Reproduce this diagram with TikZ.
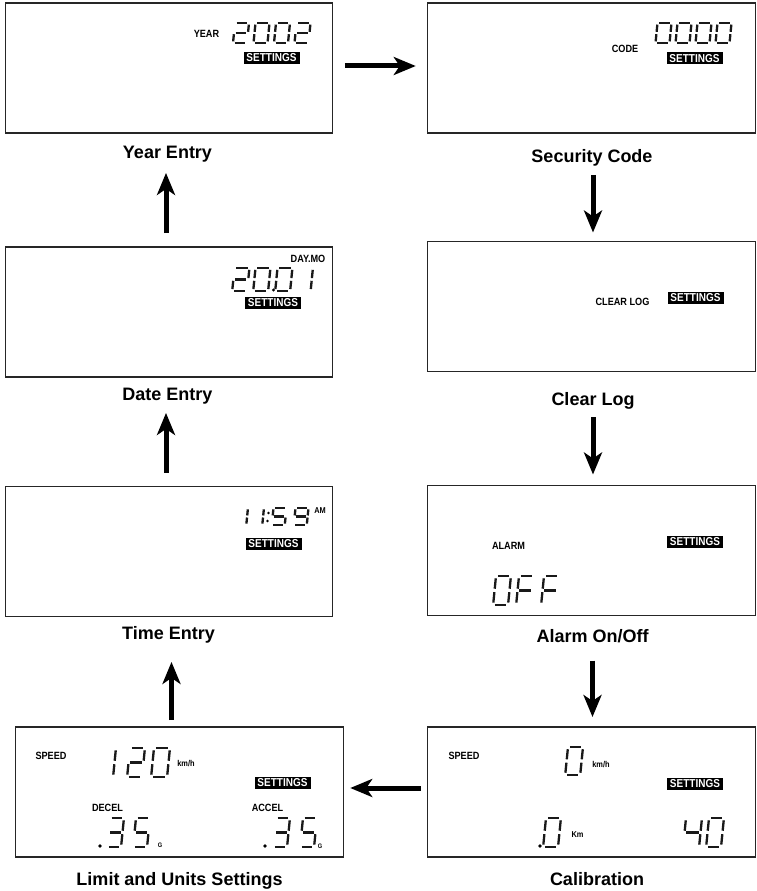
\documentclass[tikz,border=0pt]{standalone}
\usepackage{fontspec}
\setmainfont{Liberation Sans}
\newfontfamily\lcdfont[FakeStretch=0.87]{Liberation Sans}
\usetikzlibrary{arrows.meta}

\tikzset{
  screen/.style={draw=black!85, line width=1.4pt, minimum width=327.5pt, minimum height=130pt, inner sep=0pt, outer sep=0pt},
  screenname/.style={font=\bfseries\fontsize{18}{21}\selectfont, inner sep=0pt, anchor=base},
  lcdtag/.style={font=\lcdfont\bfseries\fontsize{10.5}{12}\selectfont, inner sep=0pt},
  lcdunit/.style={font=\lcdfont\bfseries\fontsize{8.5}{10}\selectfont, inner sep=0pt},
  setbox/.style={fill=black, text=white, font=\lcdfont\bfseries\fontsize{11.5}{12}\selectfont, minimum width=56pt, minimum height=12pt, inner sep=0pt},
  seg/.style={line width=2.3pt, black!90},
  flow/.style={line width=5pt, -{Stealth[length=22pt,width=18pt,inset=6pt]}}
}

% top-left x, top y, width, height, segments
\newcommand{\lcddigit}[5]{%
  \begin{scope}[shift={(#1,#2)}, xslant=0.1, xscale=#3, yscale=#4]
    \coordinate (a1) at (0.12,0);   \coordinate (a2) at (0.88,0);
    \coordinate (b1) at (1,0.08);   \coordinate (b2) at (1,0.44);
    \coordinate (c1) at (1,0.56);   \coordinate (c2) at (1,0.92);
    \coordinate (d1) at (0.12,1);   \coordinate (d2) at (0.88,1);
    \coordinate (e1) at (0,0.56);   \coordinate (e2) at (0,0.92);
    \coordinate (f1) at (0,0.08);   \coordinate (f2) at (0,0.44);
    \coordinate (g1) at (0.12,0.5); \coordinate (g2) at (0.88,0.5);
    \foreach \s in {#5} \draw[seg] (\s1) -- (\s2);
  \end{scope}}

\begin{document}
\begin{tikzpicture}[x=1pt,y=-1pt]
	\useasboundingbox (0,0) rectangle (756,891);
	
	%SCREENS
	\node[screen] (year) at (169,68) {};
	\node[screen] (code) at (591.5,68) {};
	\node[screen] (date) at (169,312) {};
	\node[screen] (clear) at (591.5,306.5) {};
	\node[screen] (time) at (169,551.5) {};
	\node[screen] (alarm) at (591.5,550.5) {};
	\node[screen] (limit) at (179.5,792) {};
	\node[screen] (calib) at (591.5,792) {};
	
	\node[screenname] (yearlbl) at (167.5,158) {Year Entry};
	\node[screenname] (codelbl) at (592,162) {Security Code};
	\node[screenname] (datelbl) at (167.5,400) {Date Entry};
	\node[screenname] (clearlbl) at (593,405) {Clear Log};
	\node[screenname] (timelbl) at (168.5,639) {Time Entry};
	\node[screenname] (alarmlbl) at (592.5,642) {Alarm On/Off};
	\node[screenname] (limitlbl) at (179.5,885) {Limit and Units Settings};
	\node[screenname] (caliblbl) at (597,885) {Calibration};
	
	%YEAR
	\node[lcdtag] (yeartag) at (206.5,34) {YEAR};
	\lcddigit{235}{23}{14}{20}{a,b,g,e,d}
	\lcddigit{255.5}{23}{14}{20}{a,b,c,d,e,f}
	\lcddigit{276}{23}{14}{20}{a,b,c,d,e,f}
	\lcddigit{296.5}{23}{14}{20}{a,b,g,e,d}
	\node[setbox] (yearset) at (271.5,58) {SETTINGS};
	
	%CODE
	\node[lcdtag] (codetag) at (625,49) {CODE};
	\foreach \x in {0,...,3}
	\lcddigit{657.5+\x*20}{23}{14}{20}{a,b,c,d,e,f}
	\node[setbox] (codeset) at (694.5,58.5) {SETTINGS};
	
	%DATE
	\node[lcdtag] (datetag) at (308,258.5) {DAY.MO};
	\lcddigit{234.5}{268}{15}{23}{a,b,g,e,d}
	\lcddigit{255.5}{268}{15}{23}{a,b,c,d,e,f}
	\fill (273.5,290) circle[radius=1.6pt];
	\lcddigit{277.5}{268}{15}{23}{a,b,c,d,e,f}
	\lcddigit{298}{268}{15}{23}{b,c}
	\node[setbox] (dateset) at (273,303) {SETTINGS};
	
	%TIME
	\lcddigit{235}{508}{13}{17}{b,c}
	\lcddigit{251}{508}{13}{17}{b,c}
	\fill (268.5,513) circle[radius=1.3pt] (267.5,521) circle[radius=1.3pt];
	\lcddigit{273.5}{508}{13}{17}{a,f,g,c,d}
	\lcddigit{295.5}{508}{13}{17}{a,b,c,d,f,g}
	\node[lcdunit] (timeam) at (320,511) {AM};
	\node[setbox] (timeset) at (273.5,543.5) {SETTINGS};
	
	%CLEAR LOG
	\node[lcdtag] (cleartag) at (622.5,302) {CLEAR LOG};
	\node[setbox] (clearset) at (695.5,297.5) {SETTINGS};
	
	%ALARM
	\node[lcdtag] (alarmtag) at (508.5,546) {ALARM};
	\lcddigit{496}{576}{15}{29}{a,b,c,d,e,f}
	\lcddigit{519}{576}{15}{29}{a,f,g,e}
	\lcddigit{544}{576}{15}{29}{a,f,g,e}
	\node[setbox] (alarmset) at (695,541.5) {SETTINGS};
	
	%CALIBRATION
	\node[lcdtag] (calibspeed) at (464,755.5) {SPEED};
	\lcddigit{568}{747}{15}{28}{a,b,c,d,e,f}
	\node[lcdunit] (calibkmh) at (601,764.5) {km/h};
	\node[setbox] (calibset) at (695,783.5) {SETTINGS};
	\fill (540,846) circle[radius=1.8pt];
	\lcddigit{546}{818}{15}{29}{a,b,c,d,e,f}
	\node[lcdunit] (calibkm) at (577.5,835) {Km};
	\lcddigit{686}{818}{16}{29}{f,g,b,c}
	\lcddigit{709}{818}{15}{29}{a,b,c,d,e,f}
	
	%LIMIT
	\node[lcdtag] (limitspeed) at (51,755.5) {SPEED};
	\lcddigit{100}{748}{16}{29}{b,c}
	\lcddigit{130}{748}{15}{29}{a,b,g,e,d}
	\lcddigit{154}{748}{16}{29}{a,b,c,d,e,f}
	\node[lcdunit] (limitkmh) at (186,763) {km/h};
	\node[setbox] (limitset) at (282.5,782.5) {SETTINGS};
	\node[lcdtag] (decel) at (107.5,808) {DECEL};
	\fill (100,846) circle[radius=1.8pt];
	\lcddigit{110}{818}{14}{29}{a,b,g,c,d}
	\lcddigit{136}{818}{14}{29}{a,f,g,c,d}
	\node[lcdunit, font=\lcdfont\bfseries\fontsize{6.5}{7}\selectfont] (decelg) at (160,845) {G};
	\node[lcdtag] (accel) at (267.5,808) {ACCEL};
	\fill (265,846) circle[radius=1.8pt];
	\lcddigit{276}{818}{14}{29}{a,b,g,c,d}
	\lcddigit{303}{818}{14}{29}{a,f,g,c,d}
	\node[lcdunit, font=\lcdfont\bfseries\fontsize{6.5}{7}\selectfont] (accelg) at (320,846) {G};
	
	%ARROWS
	\draw[flow, shorten <=12pt, shorten >=12pt] ([yshift=2pt]year.east) -- ([yshift=2pt]code.west);
	\draw[flow, shorten <=9pt, shorten >=9pt] ([xshift=1pt]codelbl.south) -- ([xshift=1pt]codelbl.south |- clear.north);
	\draw[flow, shorten <=8pt, shorten >=11pt] (clearlbl.south) -- (clearlbl.south |- alarm.north);
	\draw[flow, shorten <=18pt, shorten >=10pt] (alarmlbl.south) -- (alarmlbl.south |- calib.north);
	\draw[flow, shorten <=7pt, shorten >=7pt] ([yshift=4pt]calib.west) -- ([yshift=4pt]limit.east);
	\draw[flow, shorten <=7pt, shorten >=19pt] ([xshift=3pt]limit.north -| timelbl.south) -- ([xshift=3pt]timelbl.south);
	\draw[flow, shorten <=14pt, shorten >=9pt] ([xshift=-1.5pt]time.north -| datelbl.south) -- ([xshift=-1.5pt]datelbl.south);
	\draw[flow, shorten <=14pt, shorten >=11pt] ([xshift=-1.5pt]date.north -| yearlbl.south) -- ([xshift=-1.5pt]yearlbl.south);
	%\draw[help lines] (0,0) grid[step=50] (756,891);
\end{tikzpicture}
\end{document}
